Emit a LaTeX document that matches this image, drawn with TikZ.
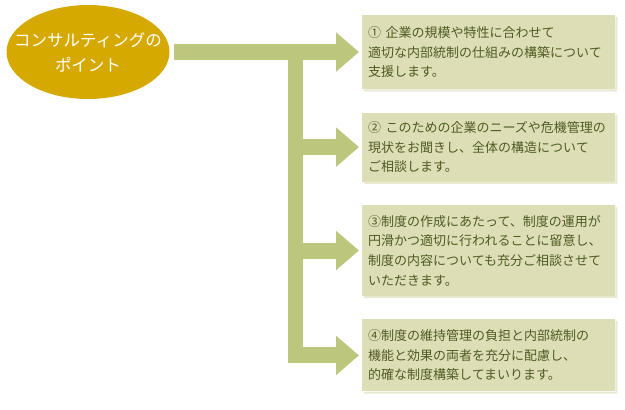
\documentclass[tikz,border=0pt]{standalone}
\usepackage{fontspec}
\setmainfont{Noto Sans CJK JP}
\usetikzlibrary{shapes.geometric, arrows.meta, positioning}
\definecolor{pointgold}{HTML}{D6A900}
\definecolor{arrowgreen}{HTML}{BCC67C}
\definecolor{boxfill}{HTML}{DEDEB6}
\definecolor{boxshade}{HTML}{E9E9D2}
\definecolor{boxtext}{HTML}{4E5B23}

\begin{document}
\begin{tikzpicture}[
    x=1pt, y=-1pt,
    node distance=23pt,
    point/.style={ellipse, fill=pointgold, minimum width=163pt, minimum height=94pt, inner sep=0pt},
    pointtext/.style={text=white, font=\fontsize{16.5}{25}\selectfont, align=center, inner sep=0pt},
    item/.style={rectangle, fill=boxfill, text=boxtext, font=\fontsize{13}{19.6}\selectfont, align=left, text width=241pt, inner xsep=6pt, inner ysep=0pt},
    arrow/.style={draw=arrowgreen, line width=16pt, -{Triangle[length=23pt, width=38pt]}, shorten >=3pt},
    bar/.style={draw=arrowgreen, line width=15pt}
]
    \useasboundingbox (0,0) rectangle (625,410);

    \node[point] (point) at (88,52) {};
    \node[pointtext] (pointlabel) at (point.center) {コンサルティングの\\ポイント};

    \node[item, minimum height=74pt, anchor=north west] (item1) at (362,15) {①~企業の規模や特性に合わせて\\適切な内部統制の仕組みの構築について\\支援します。};
    \node[item, minimum height=69pt, below=of item1] (item2) {②~このための企業のニーズや危機管理の\\現状をお聞きし、全体の構造について\\ご相談します。};
    \node[item, minimum height=91pt, below=of item2] (item3) {③制度の作成にあたって、制度の運用が\\円滑かつ適切に行われることに留意し、\\制度の内容についても充分ご相談させて\\いただきます。};
    \node[item, minimum height=72pt, below=of item3] (item4) {④制度の維持管理の負担と内部統制の\\機能と効果の両者を充分に配慮し、\\的確な制度構築してまいります。};

    % light shade on the right and bottom of each box
    \foreach \n in {item1, item2, item3, item4}
        \fill[boxshade] (\n.north east) ++(0,2) rectangle ([xshift=2pt, yshift=-2pt]\n.south east)
                        (\n.south west) ++(2,0) rectangle ([yshift=-2pt]\n.south east);

    \coordinate (fork) at (295.5,52);

    \draw[arrow, shorten <=4pt] (point.east) -- (point.east -| item1.west);
    \draw[bar] (fork) -- (fork |- item4.west);
    \draw[arrow] (fork |- item2.west) -- (item2.west);
    \draw[arrow] (fork |- item3.west) -- (item3.west);
    \draw[arrow] ([xshift=-7.5pt]fork |- item4.west) -- (item4.west);
\end{tikzpicture}
\end{document}
